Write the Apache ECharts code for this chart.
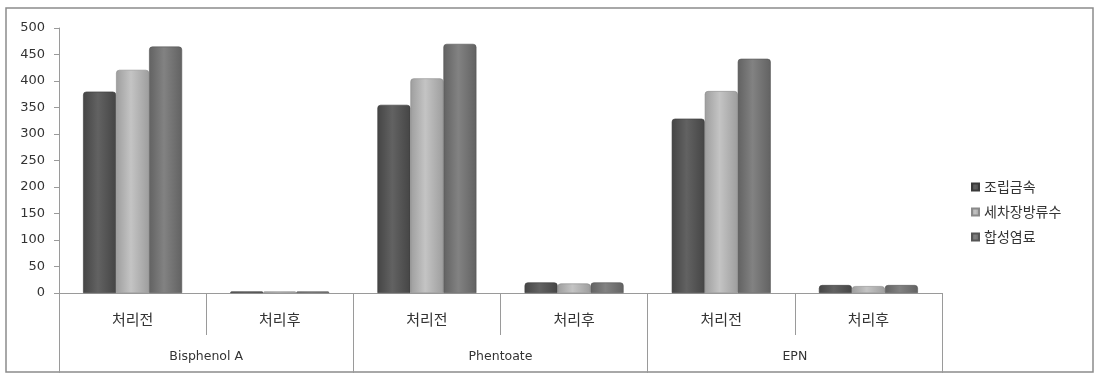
<!DOCTYPE html>
<html>
<head>
<meta charset="utf-8">
<script src="https://cdn.jsdelivr.net/npm/echarts@6/dist/echarts.min.js"></script>
<style>
  html, body { margin: 0; padding: 0; background: #fff; }
  #chart { width: 1100px; height: 375px; }
</style>
</head>
<body>
<div id="chart"></div>
<script>
const subCats = ['처리전', '처리후', '처리전', '처리후', '처리전', '처리후'];
const groups = ['Bisphenol A', 'Phentoate', 'EPN'];
const seriesNames = ['조립금속', '세차장방류수', '합성염료'];
const assembly = [380, 3, 355, 20, 329, 15];
const carwash = [421, 3, 405, 18, 381, 13];
const dye = [465, 3, 470, 20, 442, 15];

const kr = '"Noto Sans CJK KR", sans-serif';

// cylinder-ish shading, edge -> center -> edge
function shade(edge, mid) {
    return new echarts.graphic.LinearGradient(0, 0, 1, 0, [
        { offset: 0, color: edge },
        { offset: 0.45, color: mid },
        { offset: 1, color: edge }
    ]);
}

const chart = echarts.init(document.getElementById('chart'));
const option = {
    animation: false,
    backgroundColor: '#fff',
    color: ['#585858', '#b4b4b4', '#7a7a7a'],
    graphic: [{
        type: 'rect',
        shape: { x: 6, y: 8, width: 1087, height: 364 },
        style: { fill: 'none', stroke: '#8c8c8c', lineWidth: 1.5 },
        silent: true
    }],
    grid: { left: 59, right: 158, top: 28, bottom: 82 },
    legend: {
        orient: 'vertical',
        left: 966,
        top: 175,
        itemWidth: 7,
        itemHeight: 7,
        itemGap: 11,
        icon: 'rect',
        data: seriesNames,
        textStyle: { fontFamily: kr, fontSize: 14, color: '#333' }
    },
    xAxis: [
        {
            type: 'category',
            data: subCats,
            axisLine: { show: true, lineStyle: { color: '#9a9a9a', width: 1 } },
            axisTick: { show: true, interval: 0, length: 42, lineStyle: { color: '#9a9a9a', width: 1 } },
            axisLabel: { interval: 0, margin: 19, fontFamily: kr, fontSize: 15, color: '#333' }
        },
        {
            type: 'category',
            data: groups,
            position: 'bottom',
            axisLine: { show: false },
            axisTick: { show: true, interval: 0, length: 80, lineStyle: { color: '#9a9a9a', width: 1 } },
            axisLabel: { interval: 0, margin: 57, fontFamily: 'DejaVu Sans', fontSize: 12.5, color: '#333' }
        }
    ],
    yAxis: {
        type: 'value',
        min: 0,
        max: 500,
        interval: 50,
        splitLine: { show: false },
        axisLine: { show: true, lineStyle: { color: '#9a9a9a', width: 1 } },
        axisTick: { show: true, length: 5, lineStyle: { color: '#9a9a9a', width: 1 } },
        axisLabel: { margin: 14, fontFamily: 'DejaVu Sans', fontSize: 13, color: '#333' }
    },
    series: [
        {
            name: seriesNames[0], type: 'bar', data: assembly,
            barWidth: 33, barGap: '0%',
            itemStyle: { color: shade('#454545', '#626262'), borderColor: '#3a3a3a', borderWidth: 0.6, borderRadius: [3, 3, 0, 0] }
        },
        {
            name: seriesNames[1], type: 'bar', data: carwash,
            barWidth: 33, barGap: '0%',
            itemStyle: { color: shade('#9e9e9e', '#c4c4c4'), borderColor: '#8a8a8a', borderWidth: 0.6, borderRadius: [3, 3, 0, 0] }
        },
        {
            name: seriesNames[2], type: 'bar', data: dye,
            barWidth: 33, barGap: '0%',
            itemStyle: { color: shade('#626262', '#828282'), borderColor: '#555', borderWidth: 0.6, borderRadius: [3, 3, 0, 0] }
        }
    ]
};
chart.setOption(option);
</script>
</body>
</html>
